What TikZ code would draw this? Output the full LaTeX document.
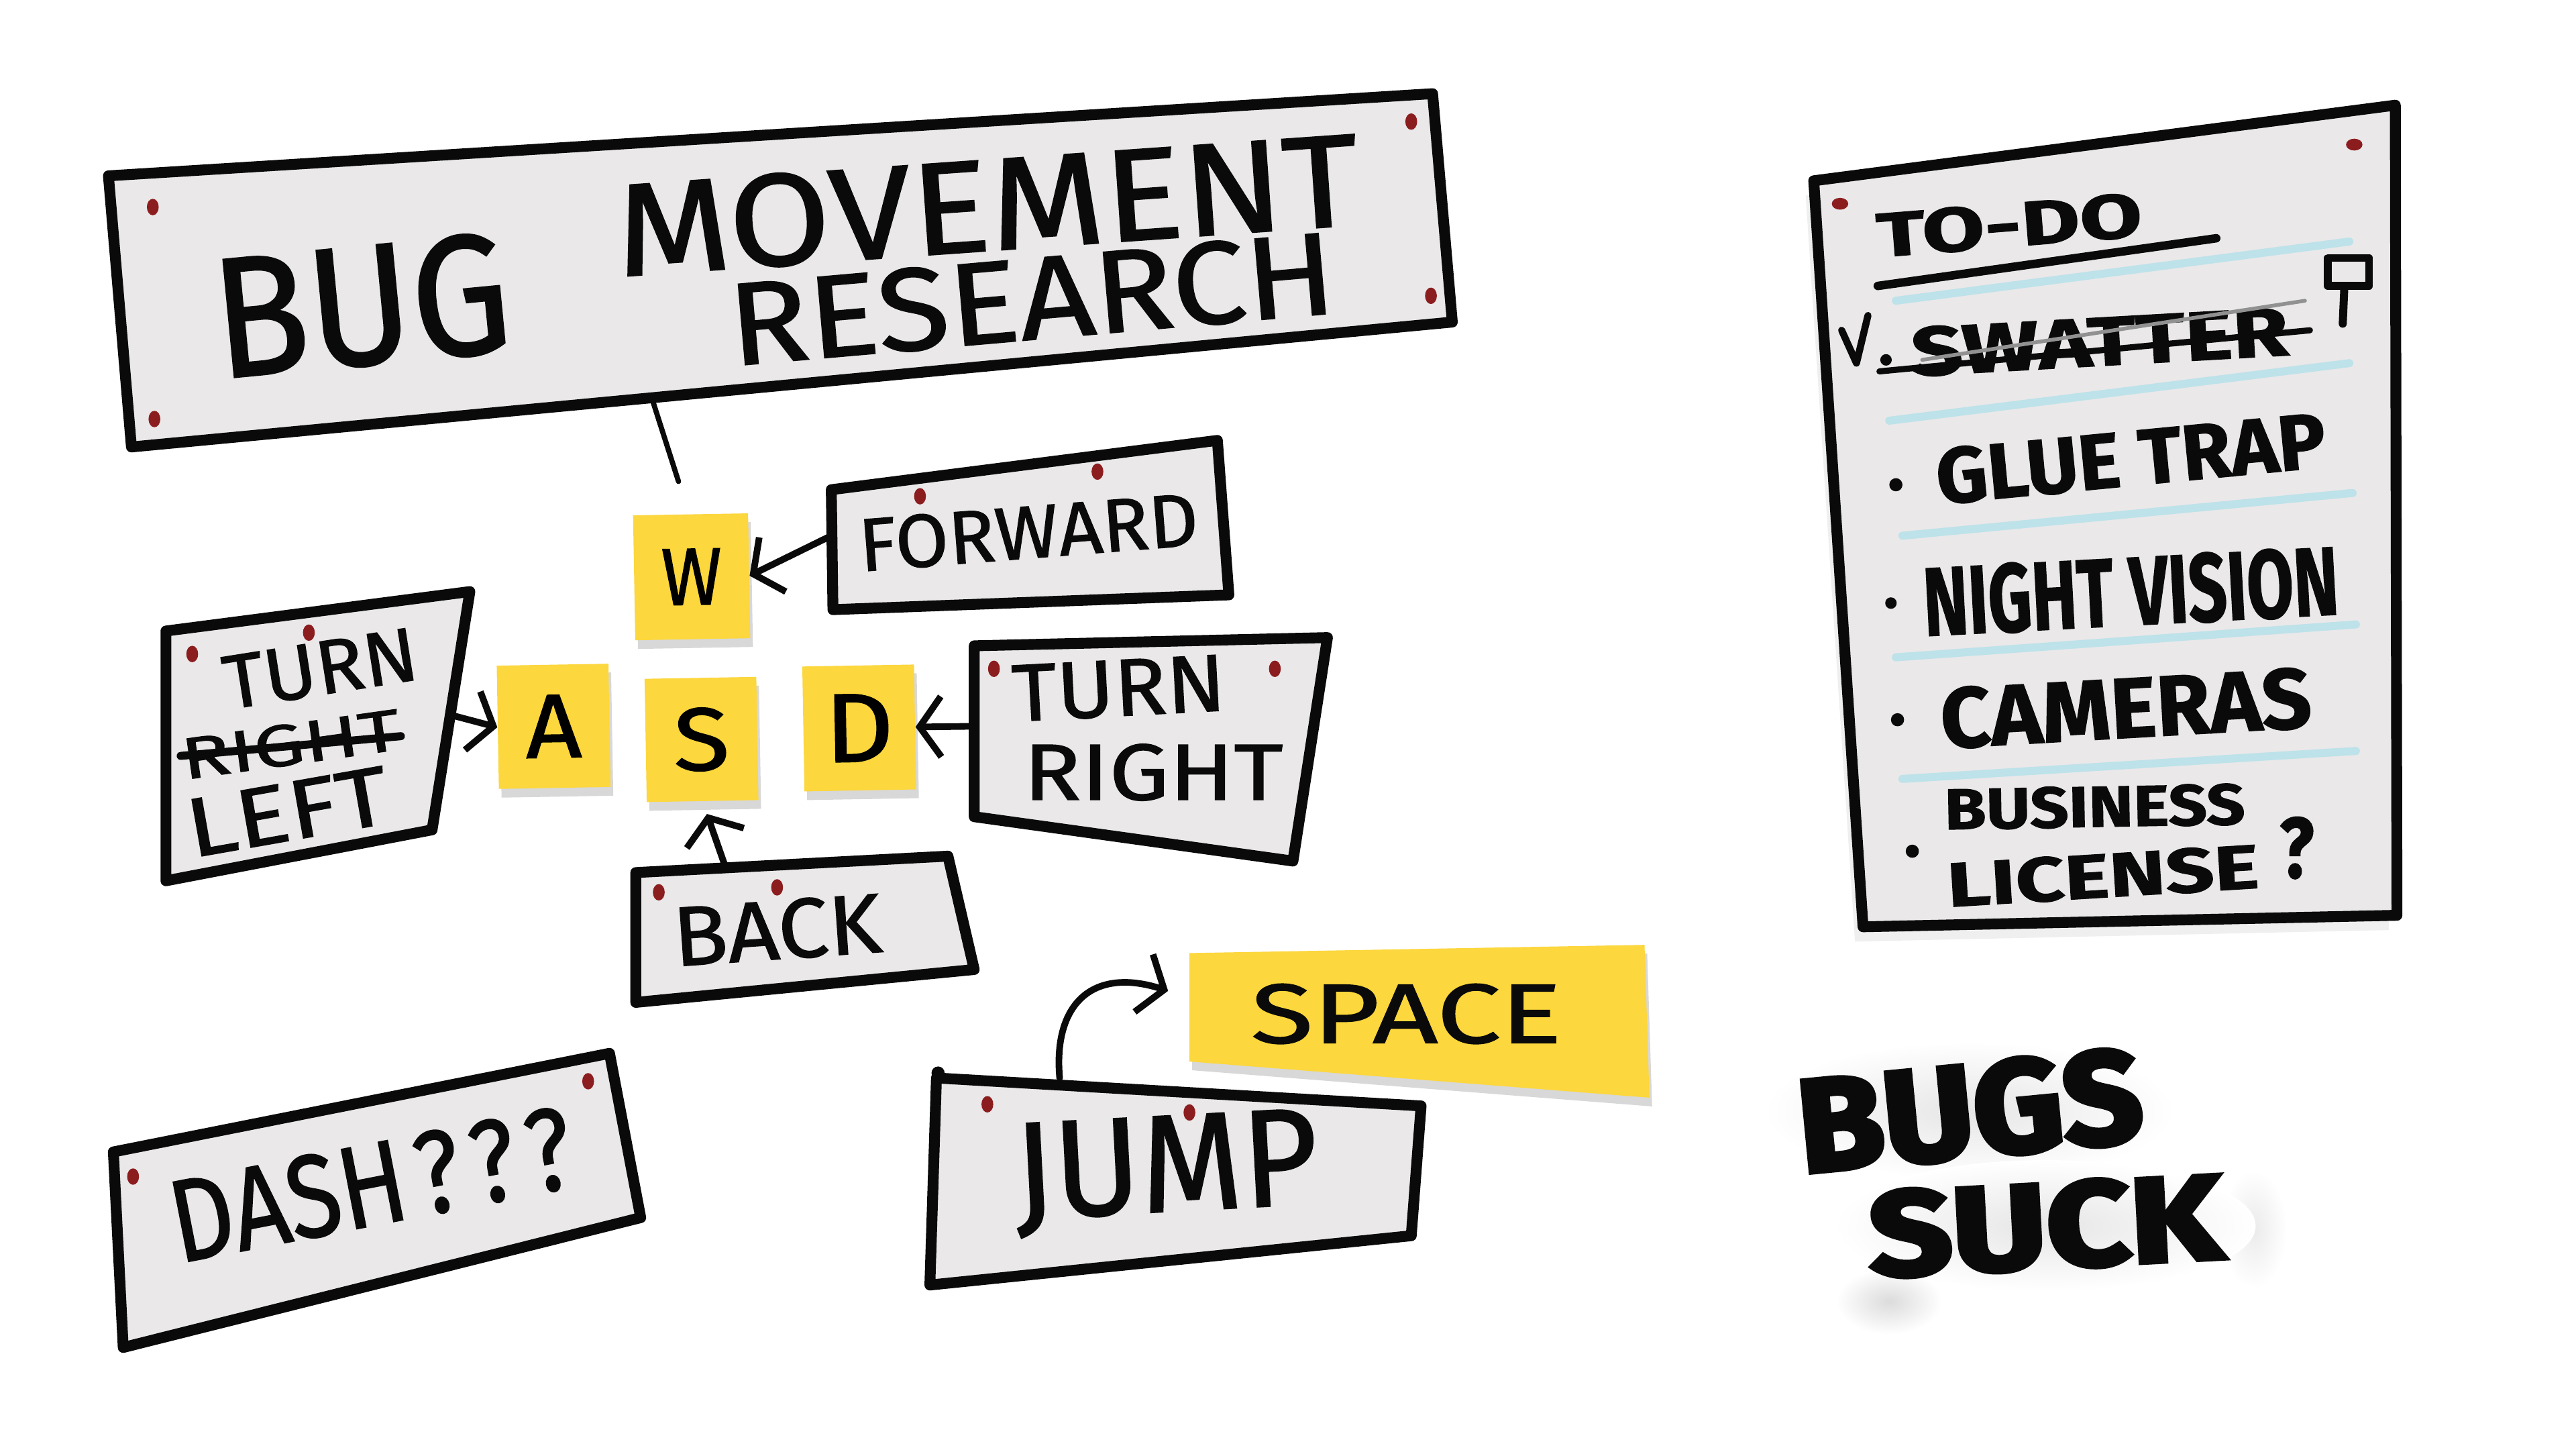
\documentclass[tikz,border=0pt]{standalone}
\usepackage{fontspec}
\setmainfont[FakeBold=1.2]{Fira Sans}
\newfontfamily\sprayfont[FakeBold=4]{Fira Sans}
\usepackage{graphicx}
\usetikzlibrary{arrows.meta,shadows}
\definecolor{board}{HTML}{EAE8E9}
\definecolor{pinred}{HTML}{8C1D1F}
\definecolor{sticky}{HTML}{FCD73D}
\definecolor{rule}{HTML}{BDE2E9}
\definecolor{ink}{HTML}{0A0A0A}
\newlength{\pxu}\setlength{\pxu}{0.2449mm}
\newcommand{\hand}[3]{\resizebox{#1\pxu}{#2\pxu}{#3}}
\tikzset{
  >={Straight Barb[length=3.2mm,width=9mm]},
  boardbox/.style={draw=ink,line width=4.6pt,fill=board,line join=round,line cap=round},
  stickynote/.style={fill=sticky,inner sep=0pt,drop shadow={shadow xshift=0.4mm,shadow yshift=-1.3mm,opacity=.3}},
  pinhead/.style={fill=pinred},
  scrawl/.style={inner sep=0pt,text=ink},
  todoitem/.style={scrawl,font=\bfseries},
  spray/.style={scrawl,font=\sprayfont\bfseries},
  arrow/.style={->,line width=2.8pt,draw=ink,line cap=round,line join=round},
  strike/.style={line width=3.4pt,draw=ink,line cap=round},
  ruleline/.style={line width=3.4pt,draw=rule,line cap=round},
  bullet/.style={fill=ink},
}

\begin{document}
\begin{tikzpicture}[x=0.2449mm,y=-0.2449mm]
\fill[white] (0,0) rectangle (1568,882);
\useasboundingbox (0,0) rectangle (1568,882);

% title board
\draw[boardbox] (66,107) -- (872,57) -- (884,196) -- (80,272) -- cycle;
\foreach \px/\py in {93/126,859/74,871/180,94/255}
  \fill[pinhead] (\px,\py) ellipse[x radius=3.6,y radius=5];
\node[scrawl,rotate=5.5] (bug) at (220,186) {\hand{181}{73}{BUG}};
\node[scrawl,rotate=4] (movement) at (601,125) {\hand{453}{56}{MOVEMENT}};
\node[scrawl,rotate=5] (research) at (628,182) {\hand{370}{50}{RESEARCH}};
\coordinate (title-s) at (397,243);
\coordinate (w-top) at (413,293);
\draw[line width=2.2pt,draw=ink,line cap=round] (title-s) -- (w-top);

% keys
\node[stickynote,minimum width=70\pxu,minimum height=76\pxu,rotate=1] (w) at (421,351) {\hand{37}{34}{W}};
\node[stickynote,minimum width=68\pxu,minimum height=75\pxu,rotate=1] (a) at (337,442) {\hand{34}{38}{A}};
\node[stickynote,minimum width=68\pxu,minimum height=75\pxu,rotate=1] (s) at (427,450) {\hand{34}{38}{S}};
\node[stickynote,minimum width=68\pxu,minimum height=76\pxu,rotate=1] (d) at (523,443) {\hand{42}{41}{D}};

% forward
\draw[boardbox] (506,298) -- (741,268) -- (748,362) -- (507,371) -- cycle;
\foreach \px/\py in {560/302,668/287}
  \fill[pinhead] (\px,\py) ellipse[x radius=3.6,y radius=5];
\node[scrawl,rotate=4.5] (forward) at (626,324) {\hand{207}{32}{FORWARD}};
\coordinate (forward-w) at (506,326);
\draw[arrow] (forward-w) -- (w.east);

% turn left
\draw[boardbox] (101,384) -- (286,360) -- (263,505) -- (101,536) -- cycle;
\foreach \px/\py in {117/398,188/385}
  \fill[pinhead] (\px,\py) ellipse[x radius=3.6,y radius=5];
\node[scrawl,rotate=9] (turnl) at (195,407) {\hand{119}{32}{TURN}};
\node[scrawl,rotate=8] (rightl) at (177,453) {\hand{134}{25}{RIGHT}};
\draw[strike] (110,460) -- (244,448);
\node[scrawl,rotate=10] (left) at (175,494) {\hand{124}{35}{LEFT}};
\coordinate (turnl-e) at (274,435);
\draw[arrow] (turnl-e) -- (a.west);

% turn right
\draw[boardbox] (593,393) -- (808,388) -- (787,524) -- (593,497) -- cycle;
\foreach \px/\py in {605/407,776/407}
  \fill[pinhead] (\px,\py) ellipse[x radius=3.6,y radius=5];
\node[scrawl,rotate=3] (turnr) at (681,419) {\hand{130}{34}{TURN}};
\node[scrawl] (rightr) at (702,470) {\hand{158}{34}{RIGHT}};
\coordinate (turnr-w) at (591,442);
\draw[arrow] (turnr-w) -- (d.east);

% back
\draw[boardbox] (387,531) -- (577,521) -- (593,590) -- (387,610) -- cycle;
\foreach \px/\py in {401/543,473/540}
  \fill[pinhead] (\px,\py) ellipse[x radius=3.6,y radius=5];
\node[scrawl,rotate=4] (back) at (473,566) {\hand{127}{36}{BACK}};
\coordinate (back-n) at (441,526);
\draw[arrow,shorten >=8\pxu] (back-n) -- (s.south);

% dash
\draw[boardbox] (69,701) -- (371,641) -- (390,741) -- (75,820) -- cycle;
\foreach \px/\py in {81/716,358/658}
  \fill[pinhead] (\px,\py) ellipse[x radius=3.6,y radius=5];
\node[scrawl,rotate=11] (dash) at (226,721) {\hand{248}{50}{DASH\kern.12em?\kern.12em?\kern.12em?}};

% jump
\path[stickynote] (724,580) -- (1001,575) -- (1004,668) -- (724,646) -- cycle;
\node[scrawl] (space) at (856,617) {\hand{189}{36}{SPACE}};
\draw[boardbox] (570,656) -- (865,673) -- (859,752) -- (566,782) -- cycle;
\fill[ink] (571,653) circle[radius=4];
\foreach \px/\py in {601/672,724/677}
  \fill[pinhead] (\px,\py) ellipse[x radius=3.6,y radius=5];
\node[scrawl,rotate=3] (jump) at (710,714) {\hand{185}{58}{JUMP}};
\coordinate (jump-n) at (645,656);
\coordinate (space-w) at (711,603);
\draw[arrow] (jump-n) .. controls (641,612) and (664,588) .. (space-w);

% to-do list
\draw[boardbox,drop shadow={shadow xshift=-1.2mm,shadow yshift=-2.2mm,opacity=.12}] (1104,110) -- (1458,64) -- (1459,557) -- (1134,564) -- cycle;
\foreach \px/\py in {1120/124,1433/88}
  \fill[pinhead] (\px,\py) ellipse[x radius=5,y radius=3.6];
\foreach \xa/\ya/\xb/\yb in {1154/183/1430/147,1150/256/1430/221,1158/326/1432/300,1154/400/1434/380,1158/474/1434/457}
  \draw[ruleline] (\xa,\ya) -- (\xb,\yb);
\node[todoitem,rotate=4.6] (todo) at (1223,137) {\hand{162}{27}{TO-DO}};
\draw[line width=3.6pt,draw=ink,line cap=round] (1143,174) -- (1349,145);
\draw[line width=3pt,draw=ink,line cap=round,line join=round] (1121,201) -- (1130,221) -- (1137,192);
\fill[bullet] (1148,219) circle[radius=3.5];
\node[todoitem,rotate=3.2] (swatter) at (1278,208) {\hand{230}{30}{SWATTER}};
\draw[line width=1.6pt,draw=ink!45,line cap=round] (1170,219) -- (1403,183);
\draw[strike,line width=2.6pt] (1144,226) -- (1406,201);
\draw[line width=3.4pt,draw=ink,line join=round] (1417,157) rectangle (1442,174);
\draw[line width=3.4pt,draw=ink,line cap=round] (1427,174) -- (1426,197);
\fill[bullet] (1154,295) circle[radius=4];
\node[todoitem,rotate=5.5] (glue) at (1297,279) {\hand{238}{34}{GLUE TRAP}};
\fill[bullet] (1151,367) circle[radius=3.5];
\node[todoitem,rotate=3] (night) at (1297,360) {\hand{253}{42}{NIGHT VISION}};
\fill[bullet] (1155,438) circle[radius=4];
\node[todoitem,rotate=3.3] (cameras) at (1294,431) {\hand{226}{37}{CAMERAS}};
\fill[bullet] (1164,518) circle[radius=4];
\node[todoitem,rotate=1] (business) at (1275,491) {\hand{183}{25}{BUSINESS}};
\node[todoitem,rotate=3.5] (license) at (1280,533) {\hand{190}{27}{LICENSE}};
\node[todoitem] (query) at (1398,516) {\hand{21}{37}{?}};

% spray paint
\shade[inner color=black!14,outer color=white] (1150,792) ellipse[x radius=32,y radius=20];
\shade[inner color=black!8,outer color=white] (1372,748) ellipse[x radius=20,y radius=36];
\shade[inner color=black!10,outer color=white] (1199,676) ellipse[x radius=125,y radius=42];
\shade[inner color=black!10,outer color=white] (1245,746) ellipse[x radius=128,y radius=40];
\node[spray,rotate=5.5] (bugs) at (1199,676) {\hand{210}{57}{BUGS}};
\node[spray,rotate=3] (suck) at (1245,746) {\hand{215}{52}{SUCK}};

\end{tikzpicture}
\end{document}
